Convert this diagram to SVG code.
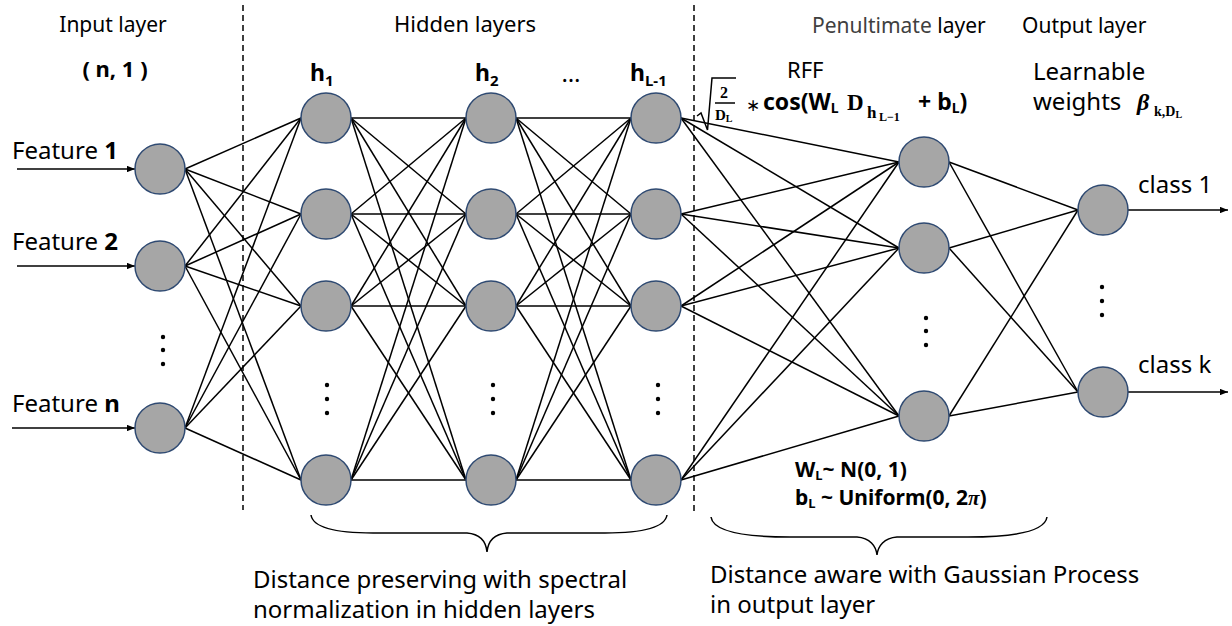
<svg xmlns="http://www.w3.org/2000/svg" width="1232" height="626" viewBox="0 0 1232 626">
<style>
.t{font-family:"Noto Sans","Liberation Sans",sans-serif;fill:#000}
.b{font-family:"Noto Sans","Liberation Sans",sans-serif;font-weight:bold;fill:#000}
.m{font-family:"Liberation Serif",serif;font-weight:bold;fill:#000}
.node{fill:#a6a6a6;stroke:#2f4a72;stroke-width:1.5}
.e{stroke:#000;stroke-width:1.5;fill:none}
.dash{stroke:#000;stroke-width:1.5;stroke-dasharray:6 4;fill:none}
.dot{fill:#000}
</style>
<defs>
<marker id="arr" viewBox="0 0 10 8" refX="10" refY="4" markerWidth="8" markerHeight="6.5" markerUnits="userSpaceOnUse" orient="auto">
<path d="M0,0 L10,4 L0,8 z" fill="#000"/>
</marker>
</defs>
<rect width="1232" height="626" fill="#fff"/>

<g id="separators">
<line class="dash" x1="243" y1="5" x2="243" y2="510"/>
<line class="dash" x1="694" y1="5" x2="694" y2="512"/>
</g>

<g id="connectors">
<!-- input to h1 -->
<line class="e" x1="185" y1="169" x2="301" y2="118"/><line class="e" x1="185" y1="169" x2="301" y2="214"/><line class="e" x1="185" y1="169" x2="301" y2="306"/><line class="e" x1="185" y1="169" x2="301" y2="480"/>
<line class="e" x1="185" y1="266" x2="301" y2="118"/><line class="e" x1="185" y1="266" x2="301" y2="214"/><line class="e" x1="185" y1="266" x2="301" y2="306"/><line class="e" x1="185" y1="266" x2="301" y2="480"/>
<line class="e" x1="185" y1="428" x2="301" y2="118"/><line class="e" x1="185" y1="428" x2="301" y2="214"/><line class="e" x1="185" y1="428" x2="301" y2="306"/><line class="e" x1="185" y1="428" x2="301" y2="480"/>
<!-- h1 to h2 -->
<line class="e" x1="351" y1="118" x2="466" y2="118"/><line class="e" x1="351" y1="118" x2="466" y2="214"/><line class="e" x1="351" y1="118" x2="466" y2="306"/><line class="e" x1="351" y1="118" x2="466" y2="480"/>
<line class="e" x1="351" y1="214" x2="466" y2="118"/><line class="e" x1="351" y1="214" x2="466" y2="214"/><line class="e" x1="351" y1="214" x2="466" y2="306"/><line class="e" x1="351" y1="214" x2="466" y2="480"/>
<line class="e" x1="351" y1="306" x2="466" y2="118"/><line class="e" x1="351" y1="306" x2="466" y2="214"/><line class="e" x1="351" y1="306" x2="466" y2="306"/><line class="e" x1="351" y1="306" x2="466" y2="480"/>
<line class="e" x1="351" y1="480" x2="466" y2="118"/><line class="e" x1="351" y1="480" x2="466" y2="214"/><line class="e" x1="351" y1="480" x2="466" y2="306"/><line class="e" x1="351" y1="480" x2="466" y2="480"/>
<!-- h2 to hL-1 -->
<line class="e" x1="516" y1="118" x2="631" y2="118"/><line class="e" x1="516" y1="118" x2="631" y2="214"/><line class="e" x1="516" y1="118" x2="631" y2="306"/><line class="e" x1="516" y1="118" x2="631" y2="480"/>
<line class="e" x1="516" y1="214" x2="631" y2="118"/><line class="e" x1="516" y1="214" x2="631" y2="214"/><line class="e" x1="516" y1="214" x2="631" y2="306"/><line class="e" x1="516" y1="214" x2="631" y2="480"/>
<line class="e" x1="516" y1="306" x2="631" y2="118"/><line class="e" x1="516" y1="306" x2="631" y2="214"/><line class="e" x1="516" y1="306" x2="631" y2="306"/><line class="e" x1="516" y1="306" x2="631" y2="480"/>
<line class="e" x1="516" y1="480" x2="631" y2="118"/><line class="e" x1="516" y1="480" x2="631" y2="214"/><line class="e" x1="516" y1="480" x2="631" y2="306"/><line class="e" x1="516" y1="480" x2="631" y2="480"/>
<!-- hL-1 to penultimate -->
<line class="e" x1="681" y1="118" x2="899" y2="162"/><line class="e" x1="681" y1="118" x2="899" y2="248"/><line class="e" x1="681" y1="118" x2="899" y2="416"/>
<line class="e" x1="681" y1="214" x2="899" y2="162"/><line class="e" x1="681" y1="214" x2="899" y2="248"/><line class="e" x1="681" y1="214" x2="899" y2="416"/>
<line class="e" x1="681" y1="306" x2="899" y2="162"/><line class="e" x1="681" y1="306" x2="899" y2="248"/><line class="e" x1="681" y1="306" x2="899" y2="416"/>
<line class="e" x1="681" y1="480" x2="899" y2="162"/><line class="e" x1="681" y1="480" x2="899" y2="248"/><line class="e" x1="681" y1="480" x2="899" y2="416"/>
<!-- penultimate to output -->
<line class="e" x1="949" y1="162" x2="1078" y2="210"/><line class="e" x1="949" y1="162" x2="1078" y2="392"/>
<line class="e" x1="949" y1="248" x2="1078" y2="210"/><line class="e" x1="949" y1="248" x2="1078" y2="392"/>
<line class="e" x1="949" y1="416" x2="1078" y2="210"/><line class="e" x1="949" y1="416" x2="1078" y2="392"/>
<!-- input arrows -->
<line class="e" x1="17" y1="169" x2="135" y2="169" marker-end="url(#arr)"/>
<line class="e" x1="17" y1="266" x2="135" y2="266" marker-end="url(#arr)"/>
<line class="e" x1="12" y1="428" x2="135" y2="428" marker-end="url(#arr)"/>
<!-- output arrows -->
<line class="e" x1="1128" y1="210" x2="1228" y2="210" marker-end="url(#arr)"/>
<line class="e" x1="1128" y1="392" x2="1228" y2="392" marker-end="url(#arr)"/>
</g>

<g id="input-layer">
<circle id="in1" class="node" cx="160" cy="169" r="25"/>
<circle id="in2" class="node" cx="160" cy="266" r="25"/>
<circle id="inn" class="node" cx="160" cy="428" r="25"/>
<circle class="dot" cx="163" cy="337" r="2.2"/><circle class="dot" cx="163" cy="350" r="2.2"/><circle class="dot" cx="163" cy="364" r="2.2"/>
</g>
<g id="hidden-1">
<circle class="node" cx="326" cy="118" r="25"/><circle class="node" cx="326" cy="214" r="25"/><circle class="node" cx="326" cy="306" r="25"/><circle class="node" cx="326" cy="480" r="25"/>
<circle class="dot" cx="327" cy="385" r="2.2"/><circle class="dot" cx="327" cy="399" r="2.2"/><circle class="dot" cx="327" cy="413" r="2.2"/>
</g>
<g id="hidden-2">
<circle class="node" cx="491" cy="118" r="25"/><circle class="node" cx="491" cy="214" r="25"/><circle class="node" cx="491" cy="306" r="25"/><circle class="node" cx="491" cy="480" r="25"/>
<circle class="dot" cx="493" cy="385" r="2.2"/><circle class="dot" cx="493" cy="399" r="2.2"/><circle class="dot" cx="493" cy="413" r="2.2"/>
</g>
<g id="hidden-L1">
<circle class="node" cx="656" cy="118" r="25"/><circle class="node" cx="656" cy="214" r="25"/><circle class="node" cx="656" cy="306" r="25"/><circle class="node" cx="656" cy="480" r="25"/>
<circle class="dot" cx="658" cy="385" r="2.2"/><circle class="dot" cx="658" cy="399" r="2.2"/><circle class="dot" cx="658" cy="413" r="2.2"/>
</g>
<g id="penultimate">
<circle class="node" cx="924" cy="162" r="25"/><circle class="node" cx="924" cy="248" r="25"/><circle class="node" cx="924" cy="416" r="25"/>
<circle class="dot" cx="926" cy="318" r="2.2"/><circle class="dot" cx="926" cy="331" r="2.2"/><circle class="dot" cx="926" cy="345" r="2.2"/>
</g>
<g id="output-layer">
<circle class="node" cx="1103" cy="210" r="25"/><circle class="node" cx="1103" cy="392" r="25"/>
<circle class="dot" cx="1102" cy="287" r="2.2"/><circle class="dot" cx="1102" cy="301" r="2.2"/><circle class="dot" cx="1102" cy="315" r="2.2"/>
</g>

<g id="braces">
<path class="e" d="M311 515 C313 528,335 533,373 533 L467 533 C480 534,486 542,487 552 C488 542,494 534,507 533 L605 533 C643 533,665 528,667 515"/>
<path class="e" d="M711 517 C713 531,740 537,790 537 L857 537 C870 538,876 546,877 555 C878 546,884 538,897 537 L968 537 C1018 537,1045 531,1047 517"/>
</g>

<g id="labels">
<text class="t" x="113" y="32" font-size="21" text-anchor="middle">Input layer</text>
<text class="b" x="115" y="77" font-size="22" text-anchor="middle" xml:space="preserve">( n, 1 )</text>
<text class="t" x="465" y="32" font-size="22" text-anchor="middle">Hidden layers</text>
<text class="b" x="310" y="81" font-size="23">h<tspan font-size="15" dy="5">1</tspan></text>
<text class="b" x="475" y="81" font-size="23">h<tspan font-size="15" dy="5">2</tspan></text>
<text class="t" x="571" y="82" font-size="24" text-anchor="middle">…</text>
<text class="b" x="630" y="81" font-size="23">h<tspan font-size="15" dy="5">L-1</tspan></text>
<text class="t" x="812" y="33" font-size="21"><tspan fill="#404040">Penultimate</tspan> layer</text>
<text class="t" x="1022" y="33" font-size="21">Output layer</text>
<text class="t" x="787" y="78" font-size="22">RFF</text>

<path class="e" d="M697 116 L701 113 L707.5 130 L712 78 L736 78" stroke-width="1.2"/>
<text class="m" x="724" y="98" font-size="16" text-anchor="middle">2</text>
<line class="e" x1="715" y1="103" x2="735" y2="103" stroke-width="1.2"/>
<text class="m" x="715" y="120" font-size="15">D<tspan font-size="10" dy="2">L</tspan></text>
<text class="t" x="746" y="111" font-size="17">∗</text>
<text class="b" x="763" y="110" font-size="23">cos(W<tspan font-size="14" dy="3">L</tspan></text>
<text class="m" x="847" y="110" font-size="23">D</text>
<text class="m" x="867" y="118" font-size="17">h</text>
<text class="m" x="879" y="121" font-size="12">L−1</text>
<text class="b" x="918" y="110" font-size="23">+ b<tspan font-size="14" dy="3">L</tspan><tspan dy="-3">)</tspan></text>

<text class="t" x="1033" y="80" font-size="24">Learnable</text>
<text class="t" x="1033" y="110" font-size="24">weights</text>
<text class="m" x="1137" y="110" font-size="24" font-style="italic">β</text>
<text class="m" x="1154" y="116" font-size="14">k,D<tspan font-size="10" dy="2">L</tspan></text>

<text class="t" x="12" y="159" font-size="24">Feature <tspan font-weight="bold">1</tspan></text>
<text class="t" x="12" y="250" font-size="24">Feature <tspan font-weight="bold">2</tspan></text>
<text class="t" x="12" y="412" font-size="24">Feature <tspan font-weight="bold">n</tspan></text>

<text class="t" x="1138" y="193" font-size="24">class 1</text>
<text class="t" x="1138" y="373" font-size="24">class k</text>

<text class="b" x="795" y="477" font-size="21">W<tspan font-size="13" dy="3">L</tspan><tspan dy="-3">~ N(0, 1)</tspan></text>
<text class="b" x="795" y="505" font-size="21">b<tspan font-size="13" dy="3">L</tspan><tspan dy="-3"> ~ Uniform(0, 2</tspan><tspan font-family="Liberation Serif" font-style="italic">π</tspan>)</text>

<text class="t" x="253" y="588" font-size="24">Distance preserving with spectral</text>
<text class="t" x="253" y="618" font-size="24">normalization in hidden layers</text>
<text class="t" x="710" y="583" font-size="24">Distance aware with Gaussian Process</text>
<text class="t" x="710" y="613" font-size="24">in output layer</text>
</g>
</svg>
